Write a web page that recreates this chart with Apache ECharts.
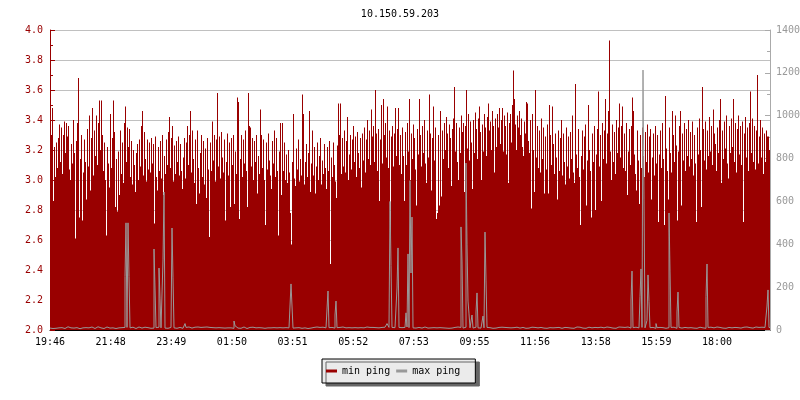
<!DOCTYPE html>
<html><head><meta charset="utf-8">
<script src="https://cdn.jsdelivr.net/npm/echarts@6/dist/echarts.min.js"></script>
<style>html,body{margin:0;padding:0;background:#fff}#c{width:800px;height:400px}</style>
</head><body><div id="c"></div>
<script>
const chartTitle = '10.150.59.203';
const seriesNames = ['min ping', 'max ping'];
const timeLabels = ['19:46','21:48','23:49','01:50','03:51','05:52','07:53','09:55','11:56','13:58','15:59','18:00'];
const leftTicks = [2.0, 4.0, 0.2];
const rightTicks = [0, 1400, 200];
// one sample every 2 minutes, 720 samples (19:46 -> 19:46)
const minPing = [
3.05,3.30,3.48,2.86,3.22,3.02,3.25,3.08,3.28,3.37,
3.12,3.35,3.04,3.30,3.39,3.18,3.38,3.29,3.36,3.07,
3.00,3.24,3.11,3.40,3.18,2.61,3.26,3.38,3.68,2.75,
3.14,3.30,2.73,3.05,3.27,3.12,2.87,3.34,3.09,3.43,
2.93,3.28,3.48,3.03,3.33,3.16,3.43,3.10,3.38,3.53,
3.20,3.53,3.30,3.06,3.25,3.00,2.63,3.22,3.11,2.95,
3.44,3.08,3.28,3.53,3.32,2.82,3.14,2.79,3.19,2.90,
3.33,3.04,3.25,2.98,3.38,3.49,3.12,3.35,3.22,3.34,
3.02,3.26,2.97,3.20,3.10,2.92,3.18,3.24,3.00,3.27,
3.09,3.36,3.46,3.03,3.32,3.14,2.99,3.27,3.07,3.25,
3.05,3.28,3.11,3.24,2.71,3.29,3.02,2.93,3.22,3.06,
3.26,3.01,3.30,2.90,3.16,3.04,3.27,3.10,3.32,3.42,
3.08,3.28,3.36,2.99,3.23,3.04,3.26,3.12,3.29,3.03,
3.24,3.06,2.94,3.15,3.28,3.01,3.25,3.36,3.10,3.30,
3.46,3.05,3.33,3.14,2.98,3.27,2.84,3.33,3.08,2.91,
3.18,3.30,3.02,3.26,2.97,3.21,2.88,3.28,3.07,2.62,
3.25,3.06,3.39,3.13,3.30,2.99,3.27,3.58,3.09,3.29,
3.01,3.32,3.15,3.05,3.27,2.73,3.12,3.31,3.03,3.25,
2.82,3.28,3.10,3.30,2.84,3.19,3.04,3.55,3.52,2.74,
3.14,3.30,3.02,3.27,3.11,3.33,3.06,2.82,3.58,3.36,
3.35,3.09,3.28,3.00,3.26,3.12,3.30,2.91,3.16,3.04,
3.47,3.30,3.08,3.27,3.00,2.70,3.25,3.07,3.31,3.13,
3.03,2.94,3.26,3.11,3.33,3.02,3.28,3.06,2.63,3.19,
3.38,2.90,3.38,3.06,3.25,3.00,3.17,2.98,3.20,3.05,
2.78,2.57,3.12,3.44,3.01,2.96,3.21,3.07,3.27,2.99,
3.14,3.03,3.57,3.44,2.97,3.12,3.24,3.02,3.18,3.46,
2.92,3.11,3.33,3.03,3.22,2.91,3.09,3.25,3.00,3.16,
3.28,2.97,3.13,3.04,3.24,3.08,2.94,3.22,3.06,3.26,
2.44,3.15,3.02,3.25,3.10,2.99,2.88,3.23,3.51,3.30,
3.51,3.04,3.28,3.09,3.33,3.05,3.26,3.42,3.00,3.17,
3.30,3.07,3.27,3.36,3.12,3.29,3.02,3.32,3.18,3.08,
3.28,2.95,3.31,3.13,3.35,3.05,3.27,3.40,3.14,3.33,
3.10,3.47,3.29,3.36,3.12,3.60,3.31,3.06,3.34,2.86,
3.27,3.50,3.11,3.54,3.30,3.38,3.15,3.49,3.08,3.33,
2.64,3.29,3.36,3.09,3.31,3.48,3.16,3.34,3.48,3.10,
3.30,3.04,3.35,3.16,2.86,3.32,3.10,3.38,3.19,3.54,
3.00,3.31,3.14,3.37,3.28,3.07,2.83,3.34,3.17,3.54,
3.30,3.09,3.36,3.18,3.40,3.11,2.98,3.33,3.15,3.57,
3.31,2.93,3.28,3.49,3.13,3.35,2.74,2.78,3.30,2.83,
3.46,2.89,3.33,3.14,3.38,3.20,3.42,3.31,3.08,3.37,
3.28,2.96,3.34,3.41,3.62,3.19,3.38,3.12,3.00,3.35,
3.18,3.43,3.32,3.38,2.92,3.36,3.60,3.21,3.44,3.13,
3.39,3.25,2.94,3.40,3.18,3.45,3.34,3.14,3.41,3.49,
3.32,3.00,3.37,3.19,3.44,3.35,3.16,3.42,3.51,3.33,
3.39,3.20,3.46,3.36,3.05,3.41,3.22,3.44,3.35,3.48,
3.24,3.40,3.48,3.19,3.43,3.36,3.17,3.45,2.98,3.38,
3.44,3.25,3.50,3.73,3.54,3.37,3.20,3.43,3.35,3.46,
3.30,3.41,3.22,3.16,3.39,3.31,3.52,3.51,3.26,3.18,
3.40,2.81,3.44,3.20,2.92,3.60,3.15,3.36,3.08,3.33,
3.05,3.41,3.14,3.35,2.91,3.29,3.07,3.37,2.91,3.50,
3.30,3.10,3.49,3.24,3.04,3.31,3.15,2.87,3.33,3.06,
3.28,3.40,3.03,3.31,3.12,2.97,3.35,3.09,3.29,3.01,
3.32,3.14,3.43,3.05,2.98,3.64,3.17,3.08,3.34,3.02,
2.70,3.16,3.33,3.07,3.29,3.37,2.83,3.13,3.50,3.20,
3.06,2.75,3.31,3.12,3.36,2.80,3.17,3.34,3.59,3.09,
3.30,2.86,3.38,3.14,3.33,3.54,3.11,3.31,3.46,3.93,
3.19,3.00,3.37,3.12,3.32,3.04,3.40,3.18,3.35,3.51,
3.15,3.36,3.49,3.08,3.31,3.06,3.38,2.90,3.19,3.34,
3.10,3.36,3.55,3.46,3.17,3.04,2.93,3.33,3.13,2.84,
3.30,3.08,3.35,3.16,3.02,3.32,3.12,3.37,3.05,3.29,
3.34,2.87,3.15,3.31,3.03,3.36,3.11,3.30,2.72,3.17,
3.33,3.08,3.38,3.14,2.70,3.56,3.21,3.06,2.87,3.35,
3.18,3.05,3.46,3.30,3.12,3.43,3.23,2.73,3.19,3.36,
3.46,2.83,3.31,3.13,3.38,3.06,3.34,3.16,3.40,3.09,
3.32,3.14,3.39,3.03,3.30,3.11,2.72,3.35,3.17,3.41,
3.20,2.82,3.62,3.34,3.13,3.39,3.07,3.33,3.16,3.42,
3.19,3.36,3.10,3.47,3.31,3.24,3.06,3.35,3.18,3.40,
3.54,2.98,3.33,3.14,3.39,3.21,3.43,3.11,3.01,3.36,
3.18,3.41,3.22,3.54,3.12,3.38,3.05,3.34,3.43,3.17,
3.36,3.10,3.39,2.72,3.31,3.42,3.15,3.35,3.06,3.38,
3.59,3.18,3.41,3.12,3.36,3.07,3.33,3.70,3.11,3.29,
3.40,3.15,3.35,3.04,3.31,3.12,3.33,3.29,3.29,3.20
];
const maxPing = [
9,12,7,10,14,8,11,6,10,13,
8,11,14,9,7,12,10,15,8,11,
10,7,13,9,12,8,11,14,9,6,
12,9,10,16,8,11,7,13,10,9,
11,14,8,10,7,12,9,15,11,8,
10,13,9,7,12,10,14,8,11,9,
8,12,10,13,9,7,11,14,10,12,
9,11,14,8,12,250,500,12,500,250,
10,8,13,9,11,7,12,10,14,9,
11,9,12,8,13,10,7,11,9,14,
8,12,10,9,378,196,11,8,13,289,
149,10,12,327,644,9,11,8,13,10,
12,9,476,243,10,14,8,11,9,12,
10,13,8,11,9,30,12,10,14,8,
11,9,12,7,13,10,8,14,11,9,
12,10,8,13,9,11,14,7,10,12,
9,13,11,8,12,10,14,9,11,7,
13,10,8,12,9,14,11,10,7,12,
10,9,13,8,42,20,11,9,12,10,
8,12,10,14,9,11,7,13,10,12,
11,8,13,9,12,10,14,8,11,9,
12,10,9,13,8,11,14,10,9,12,
10,13,8,11,9,12,10,7,14,11,
9,12,10,8,13,11,9,14,10,12,
11,215,112,9,12,10,8,13,11,9,
12,8,11,14,10,9,13,7,11,10,
9,13,10,12,8,11,14,9,10,12,
11,9,13,8,12,10,9,98,182,11,
10,12,8,13,9,70,135,11,10,12,
9,11,14,8,12,10,13,9,11,8,
12,10,9,13,11,8,14,10,12,9,
11,13,8,10,12,9,14,11,8,12,
10,9,12,14,8,11,13,9,10,12,
9,12,10,8,13,11,10,30,30,12,
600,300,12,9,11,14,10,196,383,12,
9,11,13,8,12,10,80,14,355,11,
697,266,527,10,13,9,11,8,12,10,
13,9,11,10,14,8,12,9,11,13,
10,12,8,11,9,13,10,14,9,11,
12,8,10,13,11,9,12,10,8,14,
11,9,13,10,12,8,11,14,9,10,
12,481,322,9,11,13,779,397,135,75,
10,12,70,9,11,13,84,173,10,12,
9,11,13,65,10,457,233,12,9,11,
13,10,8,12,11,9,14,10,12,8,
11,13,9,10,12,8,14,11,9,13,
10,12,8,11,14,9,13,10,12,9,
11,9,12,14,10,8,13,11,9,12,
10,13,9,11,12,8,14,10,11,9,
12,10,13,9,11,14,8,12,10,11,
9,12,10,14,8,11,13,9,12,10,
11,8,13,10,12,9,14,11,10,12,
9,13,11,8,12,10,14,9,11,13,
10,12,9,11,14,8,12,10,13,9,
11,10,13,9,12,14,8,11,10,12,
13,9,11,10,12,8,14,11,9,12,
10,12,9,13,11,8,12,10,14,9,
11,13,10,9,12,11,8,14,10,12,
9,140,275,11,10,13,9,12,10,11,
155,285,12,1213,607,10,13,45,257,132,
11,9,12,10,14,8,30,11,10,12,
9,13,11,10,12,8,14,10,11,546,
275,12,10,13,9,11,8,84,177,12,
10,9,13,11,12,8,14,10,9,12,
11,13,10,9,12,14,8,11,10,13,
9,12,10,11,14,8,156,308,12,10,
13,9,11,10,12,8,14,11,9,12,
10,13,9,12,11,8,14,10,12,9,
11,10,13,9,12,14,8,11,10,12,
9,12,11,13,10,8,14,12,9,11,
12,10,9,13,11,14,8,10,12,9,
11,13,10,9,12,8,14,112,187,12
];

const MONO = '"DejaVu Sans Mono", "Liberation Mono", monospace';
const RED = '#990000';
const GRAY = '#999999';
const n = minPing.length;
const labelStep = n * (1334 / 1440) / (timeLabels.length - 1);

const chart = echarts.init(document.getElementById('c'), null, {renderer: 'canvas'});
chart.setOption({
  animation: false,
  backgroundColor: '#ffffff',
  title: {
    text: chartTitle, left: 'center', top: 4,
    textStyle: {fontFamily: MONO, fontSize: 10, fontWeight: 'normal', color: '#000'}
  },
  grid: {left: 50, right: 30, top: 30, bottom: 70, containLabel: false, outerBoundsMode: 'none'},
  legend: {
    left: 322, top: 359, orient: 'horizontal',
    padding: [6, 15, 6, 4], itemGap: 6, itemWidth: 11, itemHeight: 3,
    icon: 'rect', backgroundColor: '#ebebeb', borderColor: '#000', borderWidth: 1,
    shadowColor: '#666666', shadowOffsetX: 4, shadowOffsetY: 3, shadowBlur: 0,
    textStyle: {fontFamily: MONO, fontSize: 10, color: '#000', lineHeight: 12},
    data: seriesNames
  },
  xAxis: {
    type: 'value', min: 0, max: n, interval: labelStep,
    axisLine: {onZero: false, lineStyle: {color: '#000', width: 1}},
    axisTick: {show: true, inside: true, length: 3, lineStyle: {color: '#000'}},
    axisLabel: {
      fontFamily: MONO, fontSize: 10, color: '#000', margin: 7,
      showMaxLabel: false,
      formatter: v => {
        const k = Math.round(v / labelStep);
        return Math.abs(k * labelStep - v) < 0.01 && timeLabels[k] ? timeLabels[k] : '';
      }
    },
    splitLine: {show: false}
  },
  yAxis: [{
    type: 'value', min: leftTicks[0], max: leftTicks[1], interval: leftTicks[2], position: 'left',
    axisLine: {show: true, lineStyle: {color: RED}},
    axisTick: {show: true, inside: true, length: 5, lineStyle: {color: RED}},
    minorTick: {show: true, splitNumber: 2, length: 3, lineStyle: {color: RED}},
    axisLabel: {fontFamily: MONO, fontSize: 10, color: RED, margin: 7, formatter: v => v.toFixed(1)},
    splitLine: {show: true, lineStyle: {color: '#c0c0c0', width: 1}}
  }, {
    type: 'value', min: rightTicks[0], max: rightTicks[1], interval: rightTicks[2], position: 'right',
    axisLine: {show: true, lineStyle: {color: '#aaaaaa'}},
    axisTick: {show: true, inside: true, length: 5, lineStyle: {color: '#aaaaaa'}},
    minorTick: {show: true, splitNumber: 2, length: 3, lineStyle: {color: '#aaaaaa'}},
    axisLabel: {fontFamily: MONO, fontSize: 10, color: GRAY, margin: 6, formatter: v => String(v)},
    splitLine: {show: false}
  }],
  series: [{
    name: seriesNames[0], type: 'bar', yAxisIndex: 0,
    data: minPing.map((v, i) => [i + 0.5, v]),
    barWidth: 1, color: RED, itemStyle: {color: RED}, clip: true,
    large: false, z: 2
  }, {
    name: seriesNames[1], type: 'line', step: 'end', yAxisIndex: 1,
    data: maxPing.map((v, i) => [i, v]).concat([[n, maxPing[n - 1]]]),
    showSymbol: false, symbol: 'none', color: GRAY,
    lineStyle: {color: GRAY, width: 1},
    z: 3
  }]
});
</script>
</body></html>
